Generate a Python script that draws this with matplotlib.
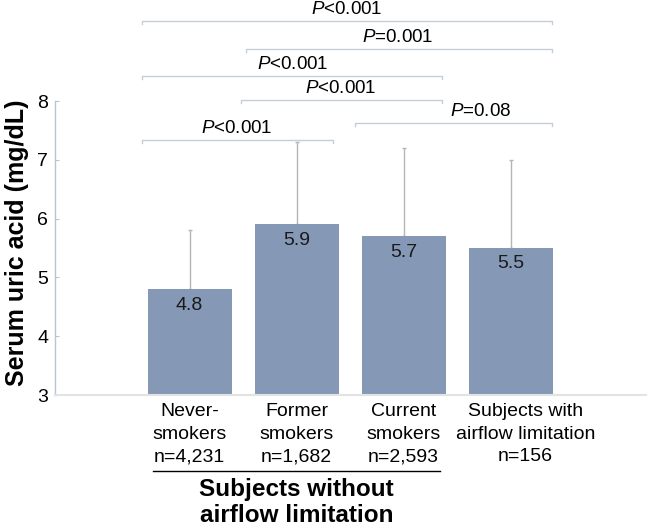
import matplotlib
matplotlib.use('Agg')
import matplotlib.pyplot as plt
from matplotlib.transforms import blended_transform_factory

plt.rcParams['font.family'] = 'Liberation Sans'
plt.rcParams['mathtext.fontset'] = 'custom'
plt.rcParams['mathtext.rm'] = 'Liberation Sans'
plt.rcParams['mathtext.it'] = 'Liberation Sans:italic'

# Data
categories = ['Never-\nsmokers\nn=4,231', 'Former\nsmokers\nn=1,682',
              'Current\nsmokers\nn=2,593', 'Subjects with\nairflow limitation\nn=156']
means = [4.8, 5.9, 5.7, 5.5]
upper = [5.8, 7.3, 7.2, 7.0]
yticks = [3, 4, 5, 6, 7, 8]

# significance brackets: start, end, height, label, label x
br_start = [-0.44, 0.53, -0.44, 0.48, 1.55, -0.44]
br_end = [3.39, 3.39, 2.36, 2.36, 3.39, 1.34]
br_y = [9.36, 8.88, 8.42, 8.01, 7.62, 7.34]
br_text = ['$P$<0.001', '$P$=0.001', '$P$<0.001', '$P$<0.001', '$P$=0.08', '$P$<0.001']
br_text_x = [1.47, 1.95, 0.96, 1.41, 2.72, 0.44]

bar_color = '#8598b6'
line_color = '#c5cdd8'

fig = plt.figure(figsize=(6.48, 5.29), dpi=100)
ax = fig.add_axes([55 / 648, 134 / 529, 591 / 648, 294 / 529])

x = list(range(len(means)))
err = [u - m for u, m in zip(upper, means)]
ax.bar(x, means, width=0.785, color=bar_color, zorder=2)
ax.errorbar(x, means, yerr=[[0] * len(err), err], fmt='none', ecolor='#b5b5b5',
            elinewidth=1.0, capsize=1.5, capthick=1.0, zorder=1)

for xi, m in zip(x, means):
    ax.annotate(f'{m:.1f}', (xi, m), xytext=(0, -11.5), textcoords='offset points',
                ha='center', va='center', fontsize=14, color='#1a1a1a', zorder=3)

ax.set_xlim(-1.257, 4.266)
ax.set_ylim(3, 8)
ax.set_yticks(yticks)
ax.set_yticklabels([str(t) for t in yticks], fontsize=14)
# last label sits a little right of its bar in the original
label_pos = [0, 1, 2, 3.14]
ax.set_xticks(label_pos)
ax.set_xticklabels(categories, fontsize=14, linespacing=1.42)
ax.tick_params(axis='x', length=0, pad=6)
ax.tick_params(axis='y', direction='in', length=3, color='#b9c4d2', pad=5)

for side in ['top', 'right']:
    ax.spines[side].set_visible(False)
ax.spines['left'].set_color('#b9c4d2')
ax.spines['bottom'].set_color('#e3e3e3')
ax.spines['left'].set_linewidth(1.0)
ax.spines['bottom'].set_linewidth(1.5)

# brackets
tick_h = 0.05
for s, e, y, t, tx in zip(br_start, br_end, br_y, br_text, br_text_x):
    ax.plot([s, s, e, e], [y - tick_h, y, y, y - tick_h], color=line_color,
            lw=1.0, clip_on=False)
    ax.annotate(t, (tx, y), xytext=(0, 8.5), textcoords='offset points',
                ha='center', va='center', fontsize=13.5, annotation_clip=False)

fig.text(17 / 648, 1 - 243 / 529, 'Serum uric acid (mg/dL)', rotation=90,
         ha='center', va='center', fontsize=18, fontweight='bold')

# group label under first three categories
trans = blended_transform_factory(ax.transData, fig.transFigure)
ax.plot([-0.34, 2.34], [1 - 471 / 529] * 2, color='black', lw=1.0,
        transform=trans, clip_on=False)
ax.text(1, 1 - 502.5 / 529, 'Subjects without\nairflow limitation', transform=trans,
        ha='center', va='center', fontsize=17.5, fontweight='bold', linespacing=1.15)

plt.savefig('out.png', dpi=100)
plt.close()
